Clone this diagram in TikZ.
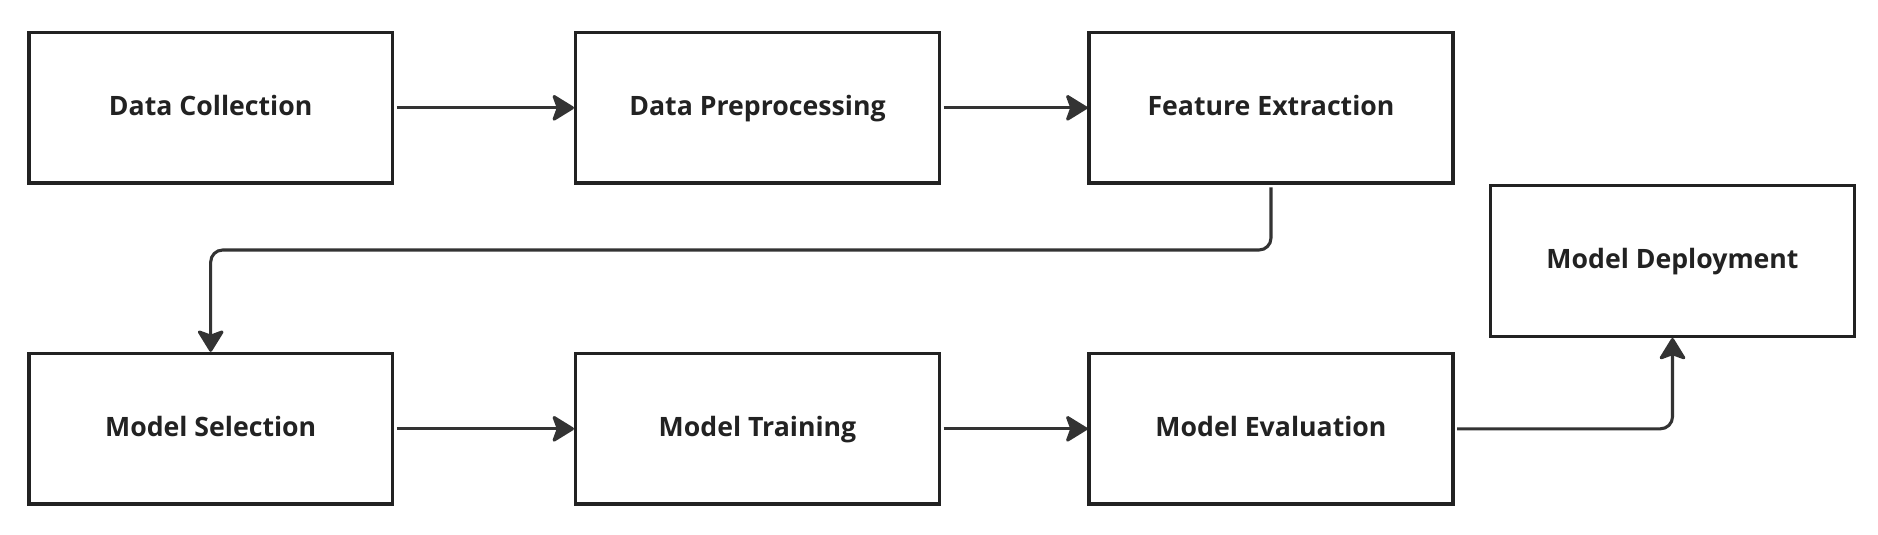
\documentclass[tikz,border=0pt]{standalone}
\usepackage{fontspec}
\setmainfont{Open Sans}
\usetikzlibrary{arrows.meta}
\definecolor{ink}{HTML}{333333}
\definecolor{txt}{HTML}{222222}
\begin{document}
\begin{tikzpicture}[x=0.75pt,y=-0.75pt,
  stepbox/.style={draw=txt,line width=2.6pt,fill=white,minimum width=363.6*0.75pt,minimum height=150.5*0.75pt,inner sep=0pt,
    text height=15pt,text depth=4pt,
    font=\fontsize{20pt}{24pt}\selectfont\bfseries,text=txt},
  conn/.style={draw=ink,line width=2.3pt,rounded corners=9pt,-{Stealth[length=18pt,width=22pt,inset=4pt,round]}}]
\useasboundingbox[fill=white] (0,0) rectangle (1878,535);
\node[stepbox] (dc) at (210.7,107.8) {Data Collection};
\node[stepbox] (dp) at (757.5,107.8) {Data Preprocessing};
\node[stepbox] (fe) at (1271,107.8) {Feature Extraction};
\node[stepbox] (ms) at (210.7,428.8) {Model Selection};
\node[stepbox] (mt) at (757.5,428.8) {Model Training};
\node[stepbox] (me) at (1271,428.8) {Model Evaluation};
\node[stepbox] (md) at (1672.5,261) {Model Deployment};
\coordinate (bend) at (0,250);
\draw[conn,shorten <=2pt] (dc.east) -- (dp.west);
\draw[conn,shorten <=2pt] (dp.east) -- (fe.west);
\draw[conn,shorten <=2pt] (fe.south) -- (fe.south |- bend) -- (ms.north |- bend) -- (ms.north);
\draw[conn,shorten <=2pt] (ms.east) -- (mt.west);
\draw[conn,shorten <=2pt] (mt.east) -- (me.west);
\draw[conn,shorten <=2pt] (me.east) -- (me.east -| md.south) -- (md.south);
\end{tikzpicture}
\end{document}
